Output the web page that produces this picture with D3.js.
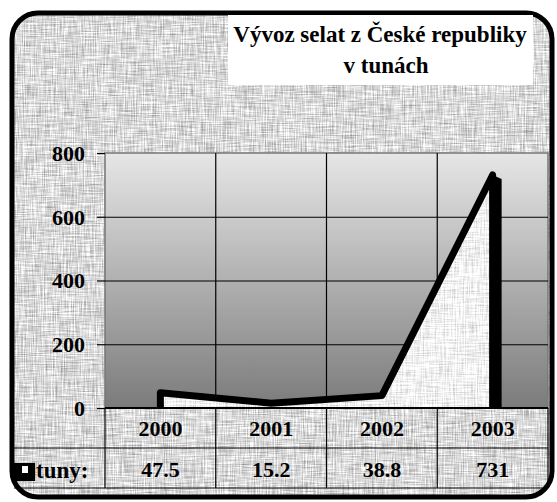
<!DOCTYPE html>
<html>
<head>
<meta charset="utf-8">
<script src="https://cdn.jsdelivr.net/npm/d3@7"></script>
<style>
  body { margin: 0; background: #fff; }
  text { font-family: "Liberation Serif", "Times New Roman", serif; font-weight: bold; fill: #000; }
</style>
</head>
<body>
<script>
// data
var years = ["2000", "2001", "2002", "2003"];
var tuny = [47.5, 15.2, 38.8, 731];
var yTicks = [0, 200, 400, 600, 800];
var titleLines = ["Vývoz selat z České republiky", "v tunách"];
var seriesName = "tuny:";

var w = 557, h = 502;
var plot = { left: 105, right: 548, top: 153, bottom: 408 };
var rowH = 40;

var svg = d3.select("body").append("svg")
    .attr("width", w)
    .attr("height", h);

var defs = svg.append("defs");

// woven canvas texture (excel "canvas" fill)
function texture(id, base, gain) {
  var f = defs.append("filter").attr("id", id)
      .attr("color-interpolation-filters", "sRGB")
      .attr("x", 0).attr("y", 0).attr("width", 1).attr("height", 1);
  f.append("feTurbulence").attr("type", "fractalNoise")
      .attr("baseFrequency", "0.9 0.05").attr("numOctaves", 2).attr("seed", 3).attr("result", "hz");
  f.append("feTurbulence").attr("type", "fractalNoise")
      .attr("baseFrequency", "0.05 0.9").attr("numOctaves", 2).attr("seed", 7).attr("result", "vt");
  f.append("feComposite").attr("in", "hz").attr("in2", "vt")
      .attr("operator", "arithmetic").attr("k2", 0.5).attr("k3", 0.5).attr("result", "mix");
  f.append("feColorMatrix").attr("in", "mix").attr("type", "matrix")
      .attr("values", [gain, 0, 0, 0, base, gain, 0, 0, 0, base, gain, 0, 0, 0, base, 0, 0, 0, 0, 1].join(" "))
      .attr("result", "grey");
  f.append("feComposite").attr("in", "grey").attr("in2", "SourceAlpha").attr("operator", "in");
}
texture("canvas", 0.4, 0.9);
texture("paper", 0.62, 0.65);

var grad = defs.append("linearGradient").attr("id", "plotGrad")
    .attr("x1", 0).attr("y1", 0).attr("x2", 0).attr("y2", 1);
grad.append("stop").attr("offset", 0).attr("stop-color", "#e6e6e6");
grad.append("stop").attr("offset", 1).attr("stop-color", "#7b7b7b");

// chart background + border
svg.append("rect").attr("x", 12).attr("y", 13).attr("width", 540).attr("height", 484)
    .attr("rx", 26).attr("fill", "#000").attr("filter", "url(#canvas)");
svg.append("rect").attr("x", 12).attr("y", 13).attr("width", 540).attr("height", 484)
    .attr("rx", 26).attr("fill", "none").attr("stroke", "#000").attr("stroke-width", 5);

// title
svg.append("rect").attr("x", 228).attr("y", 15).attr("width", 305).attr("height", 70).attr("fill", "#fff");
svg.selectAll(".title").data(titleLines).enter().append("text")
    .attr("class", "title")
    .attr("x", function(d, i) { return i == 0 ? 380 : 386; })
    .attr("y", function(d, i) { return 42 + i * 31; })
    .attr("text-anchor", "middle")
    .attr("font-size", "23px")
    .text(function(d) { return d; });

// scales
var x = d3.scaleBand().domain(years).range([plot.left, plot.right]);
var y = d3.scaleLinear().domain([0, 800]).range([plot.bottom, plot.top]);
var bw = x.bandwidth();
var cx = function(d, i) { return x(years[i]) + bw / 2; };

// plot area
svg.append("rect").attr("x", plot.left).attr("y", plot.top)
    .attr("width", plot.right - plot.left).attr("height", plot.bottom - plot.top)
    .attr("fill", "url(#plotGrad)").attr("stroke", "#777").attr("stroke-width", 1.5);

// horizontal gridlines
svg.append("g")
    .attr("transform", "translate(" + plot.left + ",0)")
    .call(d3.axisLeft(y).tickValues(yTicks.slice(1, -1)).tickSize(-(plot.right - plot.left)).tickFormat(""))
    .call(function(g) { g.select(".domain").remove(); })
    .selectAll("line").attr("stroke", "#000").attr("stroke-width", 1.2);

// vertical gridlines (category boundaries), carried down through the data table
svg.append("g").selectAll("line").data(years.slice(1)).enter().append("line")
    .attr("x1", function(d) { return x(d); }).attr("x2", function(d) { return x(d); })
    .attr("y1", plot.top).attr("y2", plot.bottom + 2 * rowH)
    .attr("stroke", "#000").attr("stroke-width", 1.2);

// y axis ticks + labels
var yAxis = svg.append("g")
    .attr("transform", "translate(" + plot.left + ",0)")
    .call(d3.axisLeft(y).tickValues(yTicks).tickSize(8).tickPadding(12));
yAxis.select(".domain").remove();
yAxis.selectAll("line").attr("stroke", "#000").attr("stroke-width", 1.2);
yAxis.selectAll("text")
    .attr("font-size", "22px").attr("dy", "0.34em");

// series: front face of 3D area
var pts = tuny.map(function(v, i) { return [cx(v, i), y(v)]; });
var area = d3.area().x(function(d) { return d[0]; }).y0(y(0)).y1(function(d) { return d[1]; });
svg.append("path").datum(pts).attr("d", area).attr("fill", "#000").attr("filter", "url(#paper)");

var last = pts[pts.length - 1];
var side = [[last[0], last[1]], [last[0] + 9, last[1] + 4], [last[0] + 9, y(0)], [last[0], y(0)]];
svg.append("path").datum(side).attr("d", d3.line()).attr("fill", "#000");

var outline = [[pts[0][0], y(0)]].concat(pts, [[last[0], y(0)]]);
svg.append("path").datum(outline).attr("d", d3.line())
    .attr("fill", "none").attr("stroke", "#000").attr("stroke-width", 7)
    .attr("stroke-linejoin", "round");

// zero line
svg.append("line").attr("x1", plot.left).attr("x2", plot.right)
    .attr("y1", plot.bottom).attr("y2", plot.bottom)
    .attr("stroke", "#000").attr("stroke-width", 2);

// data table
var tb = plot.bottom;
svg.append("line").attr("x1", plot.left).attr("x2", plot.left).attr("y1", tb).attr("y2", tb + 2 * rowH)
    .attr("stroke", "#000").attr("stroke-width", 1.2);
svg.append("line").attr("x1", plot.right).attr("x2", plot.right).attr("y1", tb).attr("y2", tb + 2 * rowH)
    .attr("stroke", "#000").attr("stroke-width", 1.2);
[tb + rowH, tb + 2 * rowH].forEach(function(yy) {
  svg.append("line").attr("x1", 14).attr("x2", plot.right).attr("y1", yy).attr("y2", yy)
      .attr("stroke", "#000").attr("stroke-width", 1.2);
});

var xAxis = svg.append("g")
    .attr("transform", "translate(0," + tb + ")")
    .call(d3.axisBottom(x).tickSize(0).tickPadding(0));
xAxis.select(".domain").remove();
xAxis.selectAll("text")
    .attr("font-size", "22px")
    .attr("y", 28).attr("dy", 0);

svg.append("g").selectAll("text").data(tuny).enter().append("text")
    .attr("x", cx).attr("y", tb + rowH + 29)
    .attr("text-anchor", "middle").attr("font-size", "22px")
    .text(function(d) { return d; });

// legend key + series name
svg.append("rect").attr("x", 14).attr("y", 463).attr("width", 21).attr("height", 18).attr("fill", "#000");
svg.append("rect").attr("x", 22).attr("y", 466).attr("width", 6).attr("height", 7).attr("fill", "#fff");
svg.append("text").attr("x", 36).attr("y", tb + rowH + 30).attr("font-size", "23px").text(seriesName);
</script>
</body>
</html>
